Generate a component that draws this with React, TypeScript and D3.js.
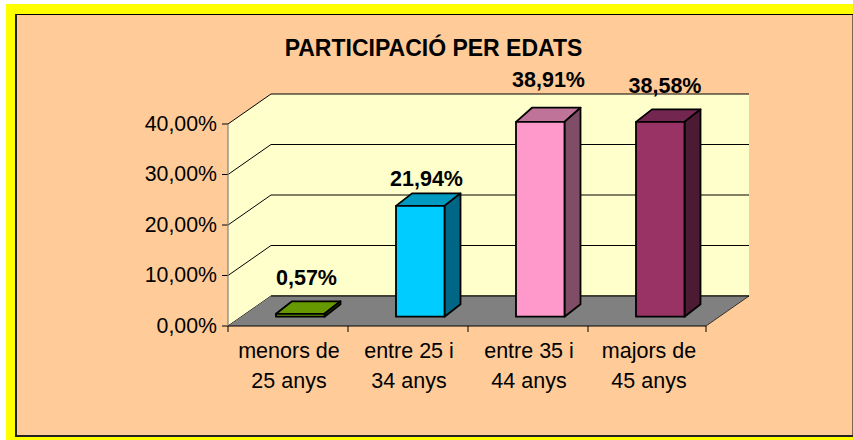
import React from "react";
import * as d3 from "d3";

const categories = [["menors de", "25 anys"], ["entre 25 i", "34 anys"], ["entre 35 i", "44 anys"], ["majors de", "45 anys"]];
const values = [0.57, 21.94, 38.91, 38.58];
const labels = ["0,57%", "21,94%", "38,91%", "38,58%"];
const front = ["#669900", "#00CCFF", "#FF99CC", "#993366"];
const top = ["#669900", "#0099bf", "#bf7399", "#732650"];
const side = ["#334d00", "#006685", "#804d66", "#4d1a33"];
const ticks = [0, 10, 20, 30, 40];
const tickLabels = ["0,00%", "10,00%", "20,00%", "30,00%", "40,00%"];
const frontCap = 38.58;

const FONT = "'Liberation Sans', Arial, sans-serif";
const W = 853, H = 440;
const x = d3.scaleBand<number>().domain([0, 1, 2, 3]).range([228, 708]);
const y = d3.scaleLinear().domain([0, 40]).range([326, 124]);
const DX = 43, DY = -30;
const bw = 48.5, bx = 16, by = -12.5, base = 316.7;
const labelX = [306.5, 426.5, 548.5, 665];
const labelY = [285, 186, 86.7, 92.7];

export default function App() {
  const xL = x(0)!, xR = 706;
  const poly = (p: number[][]) => p.map((a) => a.join(",")).join(" ");
  const k = (y(0) - y(10)) / 10;
  return (
    <svg width={W} height={H} style={{ position: "absolute", left: 0, top: 0, display: "block" }}>
      <rect x={6} y={4} width={847} height={436} fill="#FFFF00" />
      <rect x={16} y={14.5} width={837} height={421.5} fill="#FFCC99" stroke="#000" strokeWidth={1} />
      <rect x={15} y={14} width={2} height={423} fill="#222" />
      <rect x={15} y={435} width={838} height={2} fill="#222" />
      <text x={433.5} y={56} textAnchor="middle" fontFamily={FONT} fontWeight="bold" fontSize={23} fill="#000">PARTICIPACIÓ PER EDATS</text>
      <polygon points={poly([[xL, y(0)], [xL, y(40)], [xL + DX, y(40) + DY], [xR + DX, y(40) + DY], [xR + DX, y(0) + DY], [xL + DX, y(0) + DY]])} fill="#FFFFCC" />
      {ticks.map((t, i) => (
        <g key={t}>
          <polyline points={poly([[xL - 6, y(t)], [xL, y(t)], [xL + DX, y(t) + DY], [xR + DX, y(t) + DY]])} fill="none" stroke="#000" strokeWidth={1} />
          <text x={217} y={y(t) + 6.5} textAnchor="end" fontFamily={FONT} fontSize={21.3} fill="#000">{tickLabels[i]}</text>
        </g>
      ))}
      <line x1={xL} x2={xL} y1={y(40)} y2={y(0)} stroke="#808080" strokeWidth={1.2} />
      <polygon points={poly([[xL, y(0)], [xL + DX, y(0) + DY], [xR + DX, y(0) + DY], [xR, y(0)]])} fill="#808080" />
      <line x1={xL + DX} x2={xR + DX} y1={y(0) + DY} y2={y(0) + DY} stroke="#000" strokeWidth={1} />
      <line x1={xL} x2={xR} y1={y(0)} y2={y(0)} stroke="#000" strokeWidth={1} />
      <line x1={xR} x2={xR + DX} y1={y(0)} y2={y(0) + DY} stroke="#000" strokeWidth={0.7} />
      {[0, 1, 2, 3, 4].map((i) => {
        const tx = Math.min(xL + i * x.bandwidth(), xR);
        return <line key={i} x1={tx} x2={tx} y1={y(0)} y2={y(0) + 6} stroke="#000" strokeWidth={1} />;
      })}
      {values.map((v, i) => {
        const x0 = x(i)! + 48;
        const backTop = base - v * k + by;
        const t = base - Math.min(v, frontCap) * k;
        const attrs = { stroke: "#000", strokeWidth: 1.8, strokeLinejoin: "round" as const };
        return (
          <g key={i}>
            <polygon points={poly([[x0, t], [x0 + bx, backTop], [x0 + bw + bx, backTop], [x0 + bw, t]])} fill={top[i]} {...attrs} />
            <polygon points={poly([[x0 + bw, t], [x0 + bw + bx, backTop], [x0 + bw + bx, base + by], [x0 + bw, base]])} fill={side[i]} {...attrs} />
            <rect x={x0} y={t} width={bw} height={base - t} fill={front[i]} {...attrs} />
            <text x={labelX[i]} y={labelY[i]} textAnchor="middle" fontFamily={FONT} fontWeight="bold" fontSize={21.5} fill="#000">{labels[i]}</text>
          </g>
        );
      })}
      {categories.map((c, i) => c.map((s, j) => (
        <text key={s} x={x(i)! + x.bandwidth() / 2 + 1} y={357.7 + j * 30} textAnchor="middle" fontFamily={FONT} fontSize={21.5} fill="#000">{s}</text>
      )))}
    </svg>
  );
}
